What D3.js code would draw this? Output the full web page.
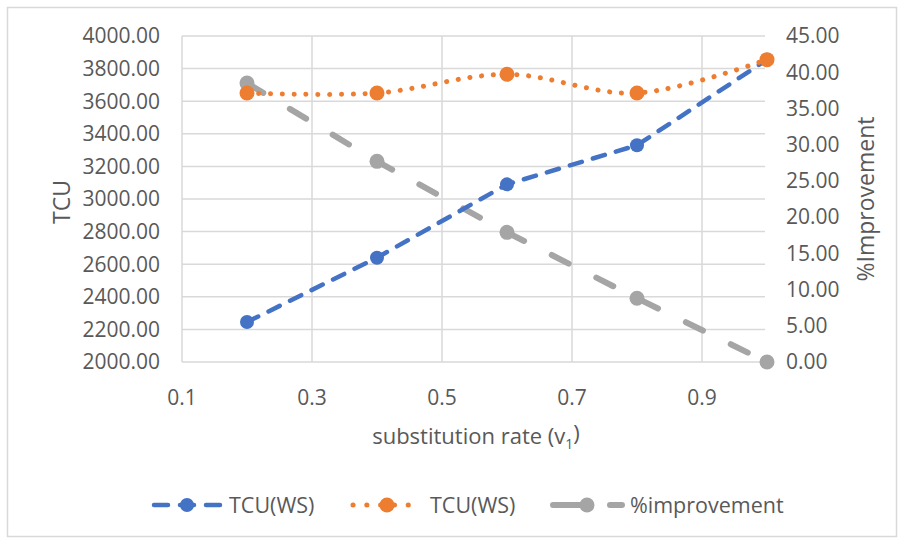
<!DOCTYPE html>
<html><head><meta charset="utf-8">
<script src="https://cdn.jsdelivr.net/npm/d3@7"></script>
<style>body{margin:0;background:#fff}svg{display:block}text{font-family:"Open Sans",sans-serif;fill:#595959}</style>
</head><body><svg id="c" width="904" height="544"></svg>
<script>
const xValues = [0.2, 0.4, 0.6, 0.8, 1.0];
const tcuWS1 = [2245, 2640, 3090, 3330, 3855];
const tcuWS2 = [3650, 3650, 3765, 3650, 3855];
const improvement = [38.5, 27.7, 17.9, 8.8, 0.0];
const xTicks = [0.1, 0.3, 0.5, 0.7, 0.9];
const yLeftTicks = [2000,2200,2400,2600,2800,3000,3200,3400,3600,3800,4000];
const yRightTicks = [0,5,10,15,20,25,30,35,40,45];
const seriesNames = ["TCU(WS)", "TCU(WS)", "%improvement"];

const svg = d3.select("#c");
svg.append("rect").attr("x",7.5).attr("y",7.5).attr("width",889).attr("height",529)
  .attr("fill","#fff").attr("stroke","#d9d9d9").attr("stroke-width",1.5);

const x = d3.scaleLinear().domain([0.1,1.0]).range([182,767]);
const yL = d3.scaleLinear().domain([2000,4000]).range([362,36]);
const yR = d3.scaleLinear().domain([0,45]).range([362,36]);
const grid = "#d9d9d9";

svg.append("g").selectAll("line").data(yLeftTicks).join("line")
  .attr("x1",182).attr("x2",765).attr("y1",d=>yL(d)).attr("y2",d=>yL(d))
  .attr("stroke",grid).attr("stroke-width",1.5);
svg.append("g").selectAll("line").data(xTicks).join("line")
  .attr("x1",d=>x(d)).attr("x2",d=>x(d)).attr("y1",36).attr("y2",362)
  .attr("stroke",grid).attr("stroke-width",1.5);

const fs = 21;
svg.append("g").selectAll("text").data(yLeftTicks).join("text")
  .attr("x",160).attr("y",d=>yL(d)).attr("dy","0.35em").attr("text-anchor","end")
  .attr("font-size",fs).text(d=>d3.format(".2f")(d));
svg.append("g").selectAll("text").data(yRightTicks).join("text")
  .attr("x",786).attr("y",d=>yR(d)).attr("dy","0.35em").attr("text-anchor","start")
  .attr("font-size",fs).text(d=>d3.format(".2f")(d));
svg.append("g").selectAll("text").data(xTicks).join("text")
  .attr("x",d=>x(d)).attr("y",398).attr("dy","0.35em").attr("text-anchor","middle")
  .attr("font-size",fs).text(d=>d3.format(".1f")(d));

const tfs = 23;
svg.append("text").attr("transform","translate(62,202) rotate(-90)").attr("text-anchor","middle")
  .attr("dy","0.35em").attr("font-size",tfs).text("TCU");
svg.append("text").attr("transform","translate(866,199) rotate(-90)").attr("text-anchor","middle")
  .attr("dy","0.35em").attr("font-size",tfs).text("%Improvement");
const xt = svg.append("text").attr("x",476).attr("y",436).attr("dy","0.35em").attr("text-anchor","middle").attr("font-size",22);
xt.append("tspan").text("substitution rate (v");
xt.append("tspan").attr("font-size",14).attr("dy","0.35em").text("1");
xt.append("tspan").attr("dy","-0.35em").text(")");

const data1 = xValues.map((v,i)=>[v,tcuWS1[i]]);
const data2 = xValues.map((v,i)=>[v,tcuWS2[i]]);
const data3 = xValues.map((v,i)=>[v,improvement[i]]);

const styles = [
  {color:"#4472C4", w:4.5, dash:"12.5 11.5", r:7},
  {color:"#ED7D31", w:5, dash:"0.1 11.7", r:7.5},
  {color:"#A5A5A5", w:6, dash:"19 31", r:7.5}
];

const line1 = d3.line().x(d=>x(d[0])).y(d=>yL(d[1]));
const line2 = d3.line().x(d=>x(d[0])).y(d=>yL(d[1])).curve(d3.curveCatmullRom.alpha(0));
const line3 = d3.line().x(d=>x(d[0])).y(d=>yR(d[1]));

function drawSeries(data, gen, yS, st){
  svg.append("path").datum(data).attr("d",gen).attr("fill","none")
    .attr("stroke",st.color).attr("stroke-width",st.w).attr("stroke-dasharray",st.dash)
    .attr("stroke-linecap","round");
  svg.append("g").selectAll("circle").data(data).join("circle")
    .attr("cx",d=>x(d[0])).attr("cy",d=>yS(d[1])).attr("r",st.r).attr("fill",st.color);
}
drawSeries(data3, line3, yR, styles[2]);
drawSeries(data1, line1, yL, styles[0]);
drawSeries(data2, line2, yL, styles[1]);

const ly = 505;
const legendItems = [
  {x0:154, x1:222, mx:187, tx:229, dash:"14 12"},
  {x0:353, x1:409, mx:387, tx:430, dash:"0.1 13.7"},
  {x0:553, x1:622, mx:587, tx:630, dash:"31 26 12"}
];
legendItems.forEach((it,i)=>{
  const st = styles[i];
  const g = svg.append("g");
  g.append("line").attr("x1",it.x0).attr("x2",it.x1).attr("y1",ly).attr("y2",ly)
    .attr("stroke",st.color).attr("stroke-width",st.w)
    .attr("stroke-dasharray", it.dash).attr("stroke-linecap","round");
  g.append("circle").attr("cx",it.mx).attr("cy",ly).attr("r",st.r).attr("fill",st.color);
  g.append("text").attr("x",it.tx).attr("y",ly).attr("dy","0.35em").attr("font-size",21.5).text(seriesNames[i]);
});
</script></body></html>
